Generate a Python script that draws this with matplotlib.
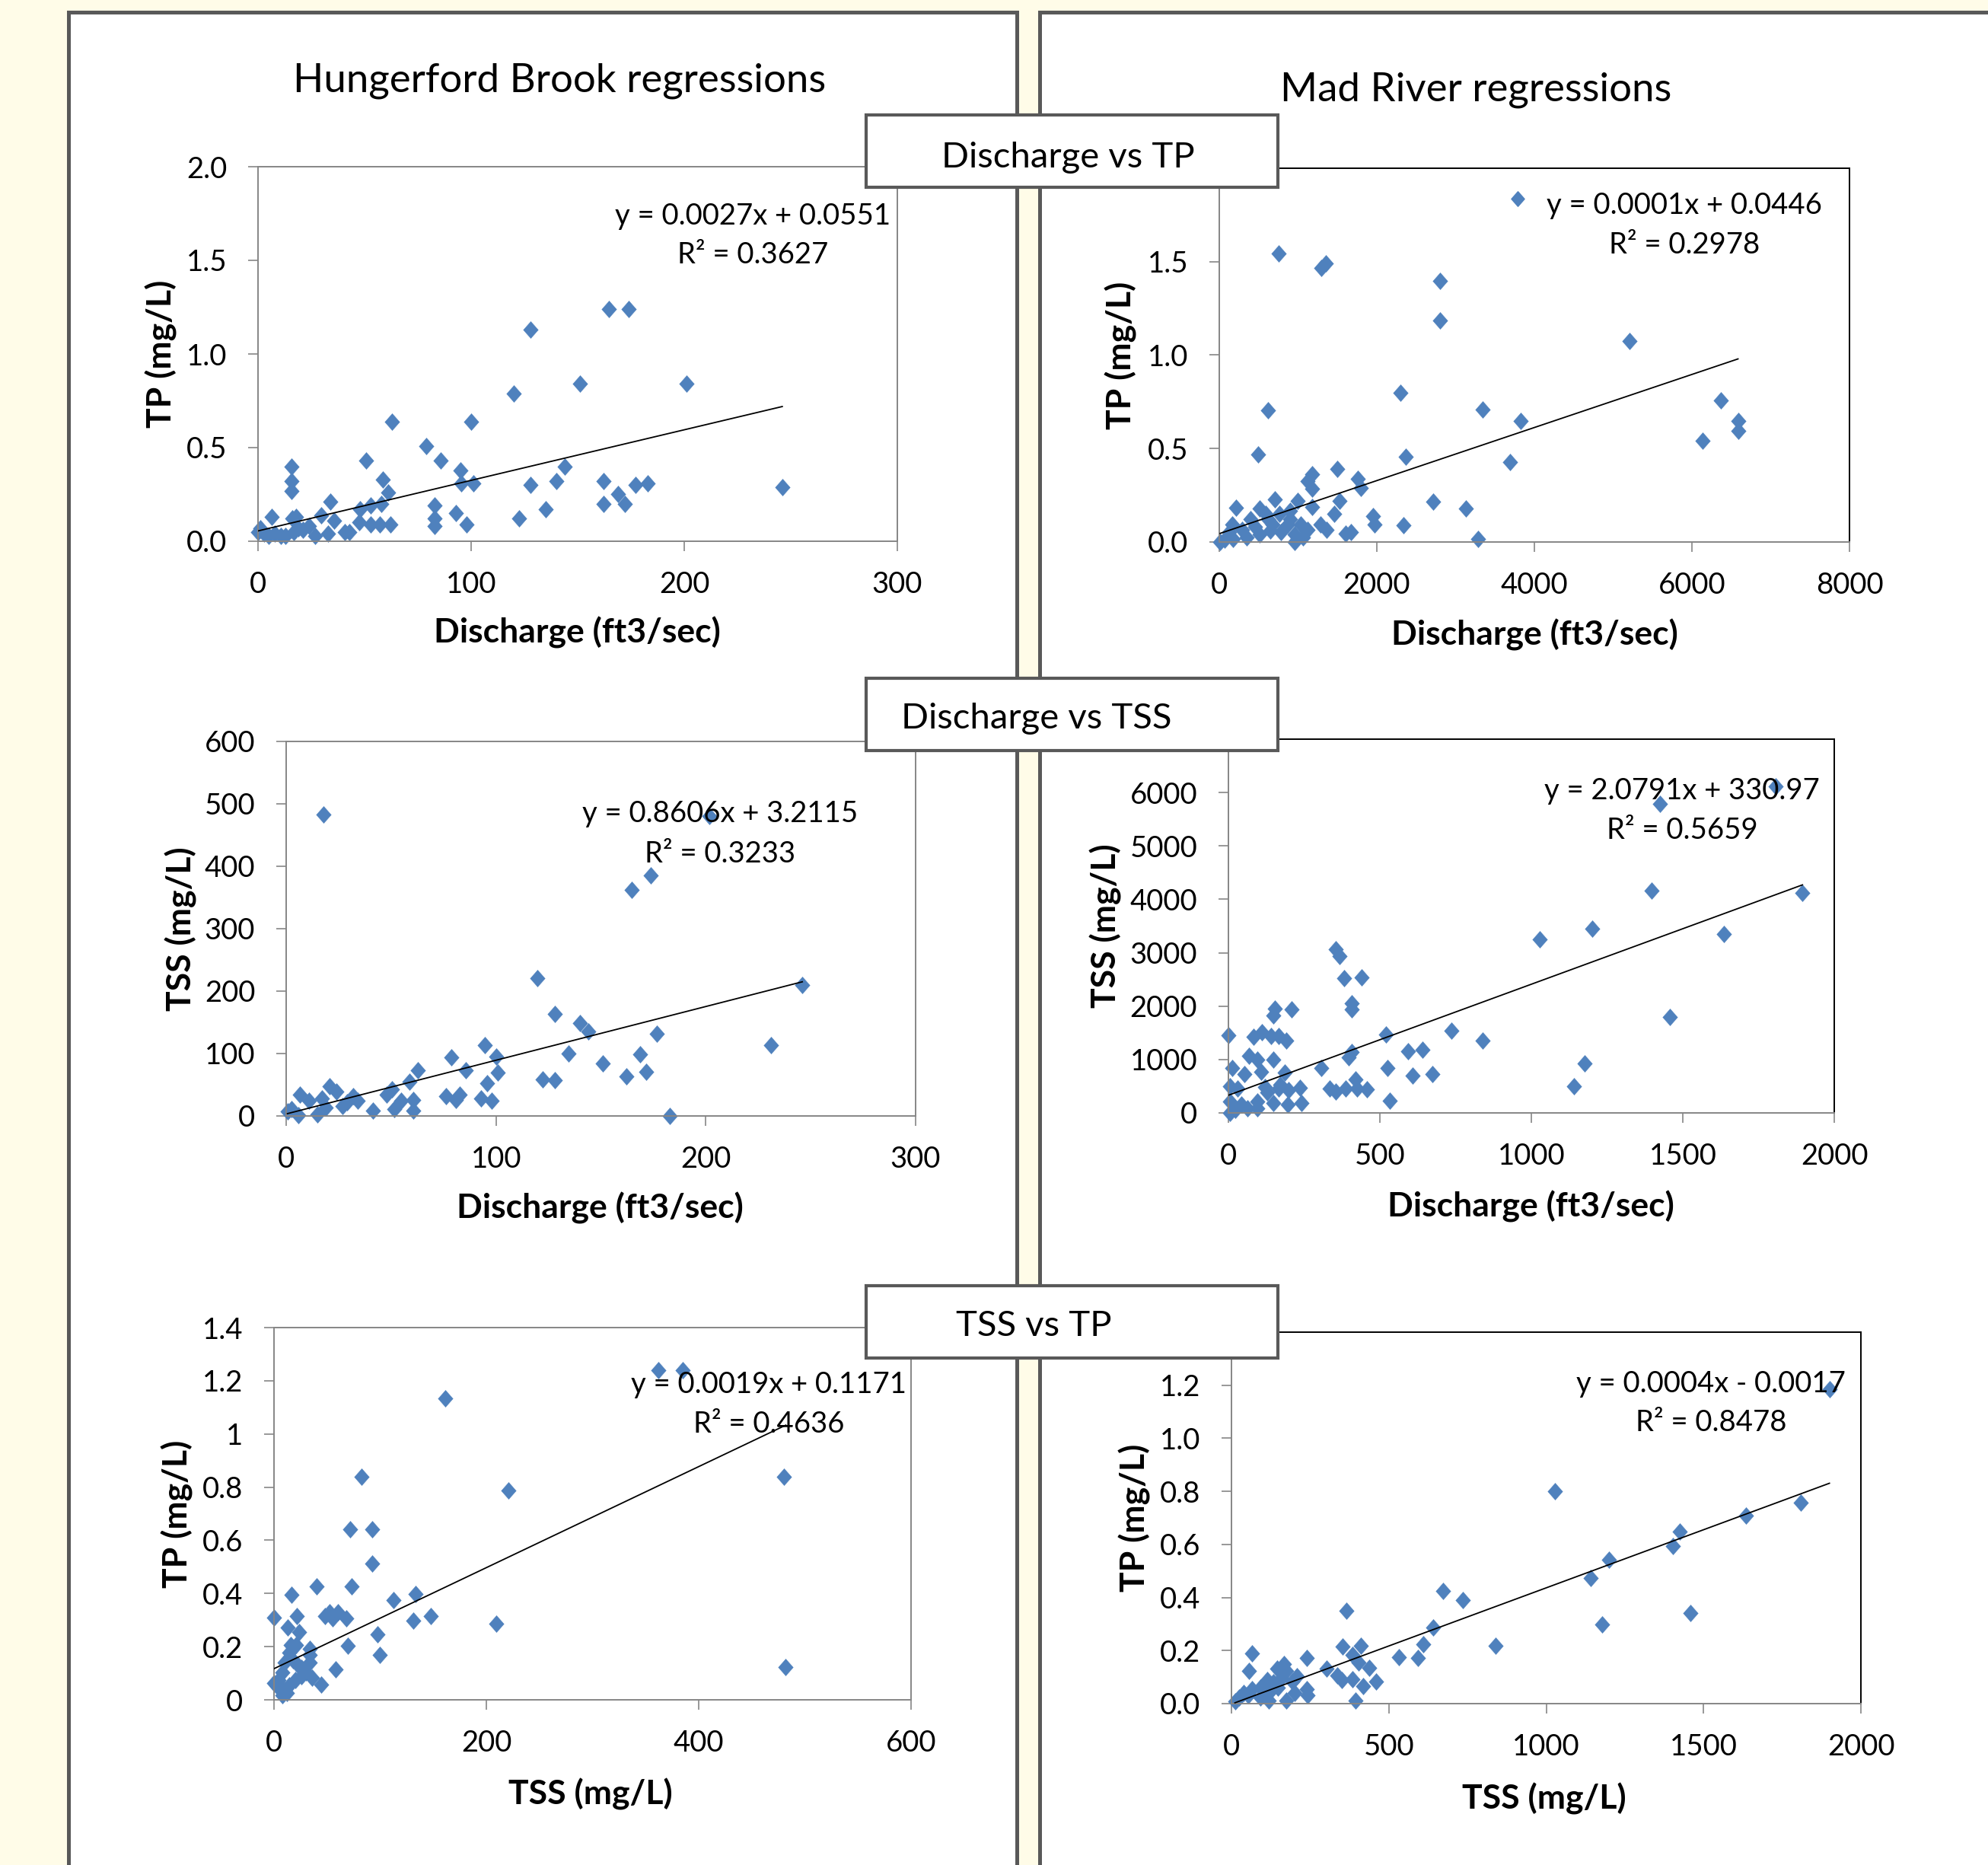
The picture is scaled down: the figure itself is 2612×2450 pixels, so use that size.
import matplotlib
matplotlib.use('Agg')
import matplotlib.pyplot as plt
import numpy as np
from matplotlib.patches import Rectangle
from matplotlib.path import Path
from matplotlib.lines import Line2D

plt.rcParams['font.family'] = ['Lato', 'DejaVu Sans']

# ---- data ----
# Hungerford Brook: discharge (ft3/sec) vs TP (mg/L)
hb_q_tp = [164.8, 174, 128, 151, 201, 120, 62.7, 99.9, 79, 85.8, 50.7, 15.7, 15.7, 15.7, 58.7, 95,
           95.5, 101, 144, 128, 140, 162, 177, 183, 246, 169, 172, 162, 135, 122.6, 92.9, 97.7,
           83, 83, 83, 61, 58, 52.7, 48, 47.6, 53, 57, 62, 33.8, 29.7, 35.6, 40.8, 42.8, 32.8,
           26.7, 18, 16, 6.6, 24, 21, 16.7, 13, 10.6, 5, 1, 0, 3, 8, 19]
hb_tp_q = [1.24, 1.24, 1.13, 0.84, 0.84, 0.79, 0.64, 0.64, 0.51, 0.43, 0.43, 0.40, 0.32, 0.27, 0.33, 0.38,
           0.31, 0.31, 0.40, 0.30, 0.32, 0.32, 0.30, 0.31, 0.29, 0.25, 0.20, 0.20, 0.17, 0.12, 0.15, 0.09,
           0.19, 0.12, 0.08, 0.26, 0.20, 0.19, 0.17, 0.10, 0.09, 0.09, 0.09, 0.21, 0.14, 0.11, 0.05, 0.05, 0.04,
           0.03, 0.13, 0.12, 0.13, 0.08, 0.06, 0.05, 0.03, 0.03, 0.03, 0.07, 0.05, 0.04, 0.04, 0.07]

# Mad River: discharge vs TP
mr_q_tp = [754, 1297, 1353, 2799, 2799, 5211, 2300, 615, 3343, 3825, 6369, 6585, 6585, 6131, 488, 2367,
           3692, 1502, 1175, 1120, 1175, 1757, 1796, 1524, 1463, 2716, 3126, 1951, 1968, 2339, 3282, 1674,
           1607, 1358, 1286, 216, 166, 510, 704, 998, 1175, 399, 621, 759, 898, 1037, 1120, 953, 1064,
           787, 649, 510, 344, 177, 67, 11, 953, 455, 288, 870, 676, 593, 898, 122]
mr_tp_q = [1.545, 1.468, 1.49, 1.398, 1.185, 1.076, 0.798, 0.704, 0.709, 0.648, 0.756, 0.646, 0.595, 0.54, 0.47, 0.455,
           0.428, 0.392, 0.361, 0.326, 0.284, 0.34, 0.291, 0.218, 0.151, 0.217, 0.179, 0.14, 0.092, 0.088, 0.018, 0.053,
           0.046, 0.067, 0.095, 0.183, 0.095, 0.179, 0.228, 0.221, 0.186, 0.123, 0.123, 0.151, 0.123, 0.095, 0.067, 0.039, 0.025,
           0.053, 0.06, 0.039, 0.025, 0.018, 0.011, 0.0, 0.0, 0.081, 0.067, 0.095, 0.095, 0.151, 0.165, 0.053]

# Hungerford Brook: discharge vs TSS
hb_q_tss = [17.7, 201.6, 173.7, 164.8, 119.8, 246, 127.9, 140, 144, 176.8, 231, 94.7, 100, 134.6, 168.8,
            78.6, 85.7, 62.7, 100.8, 151, 162, 171.7, 122.4, 128, 95.7, 58.7, 50.5, 48, 76, 82.7,
            81, 92.7, 97.8, 183, 60.7, 54.6, 60.7, 51.5, 41.3, 20.6, 24, 32, 34, 27, 17,
            6.7, 10.8, 14.9, 5.7, 0.6, 19, 29, 2.6]
hb_tss_q = [483, 481, 385, 362, 221, 210, 163, 149, 135, 132, 113, 114, 95, 100, 99,
            94, 73.5, 73.5, 69, 83.6, 63, 71, 59, 57, 52, 55, 43, 34.5, 32, 34.5,
            26, 28, 24, 0, 26, 24, 9, 11, 9, 47, 39, 32, 24, 15.5, 28,
            34.5, 24, 3, 1, 7, 13, 22, 11]

# Mad River: discharge vs TSS
mr_q_tss = [1807, 1424, 1398, 1895, 1200, 1028, 1636, 1458, 1175, 1140, 354, 367, 383, 440, 408,
            408, 153, 209, 147, 0, 82, 110, 140, 166, 192, 519, 735, 840, 593, 640,
            406, 397, 525, 609, 673, 532, 306, 147, 69, 95, 13, 52, 108, 185, 4,
            30, 121, 166, 198, 237, 335, 354, 387, 419, 425, 458, 147, 196, 240, 95,
            43, 4, 4, 62, 95, 23, 172, 127]
mr_tss_q = [6121, 5793, 4167, 4118, 3443, 3247, 3345, 1792, 921, 504, 3066, 2938, 2527, 2537, 2057,
            1934, 1959, 1934, 1827, 1459, 1420, 1508, 1435, 1435, 1361, 1469, 1533, 1361, 1151, 1180,
            1141, 1043, 847, 700, 725, 225, 847, 994, 1068, 994, 847, 725, 774, 749, 504,
            455, 480, 455, 431, 470, 455, 406, 455, 627, 455, 441, 186, 162, 186, 211,
            162, 211, 0, 88, 88, 64, 529, 382]

# Hungerford Brook: TSS vs TP
hb_tss = [361.7, 384.6, 161.6, 82.4, 480, 220.7, 71.5, 92.4, 92.4, 40.2, 73.2, 16.5, 133.4, 112.5, 0,
          21.7, 52.3, 60, 55, 68, 48, 131, 147.5, 209, 12.9, 24, 97.3, 69.5, 99.3, 16,
          21, 33.4, 14, 58.3, 482, 44.6, 34, 36, 30, 26, 18, 10, 8, 4, 2,
          10, 8, 14, 20, 26, 22, 6, 12, 0, 34]
hb_tp = [1.24, 1.24, 1.133, 0.84, 0.84, 0.788, 0.64, 0.64, 0.512, 0.427, 0.427, 0.394, 0.399, 0.375, 0.309,
         0.316, 0.33, 0.33, 0.306, 0.306, 0.316, 0.297, 0.314, 0.287, 0.273, 0.254, 0.246, 0.204, 0.169, 0.207,
         0.207, 0.192, 0.178, 0.114, 0.124, 0.057, 0.169, 0.083, 0.102, 0.121, 0.15, 0.14, 0.102, 0.074, 0.055,
         0.036, 0.017, 0.055, 0.074, 0.088, 0.131, 0.045, 0.027, 0.064, 0.14]

# Mad River: TSS vs TP
mr_tss = [1900, 1028, 1809, 1636, 1425, 1402, 1199, 1141, 1178, 1459, 673, 735, 365, 642, 609,
          840, 533, 593, 354, 411, 384, 404, 438, 459, 418, 393, 239, 65, 56, 303,
          337, 350, 384, 144, 167, 174, 208, 194, 239, 242, 201, 174, 113, 92, 147,
          119, 65, 92, 119, 38, 24, 11, 52, 160, 133]
mr_tp = [1.185, 0.80, 0.758, 0.708, 0.647, 0.594, 0.542, 0.473, 0.297, 0.34, 0.425, 0.39, 0.351, 0.288, 0.224,
         0.219, 0.174, 0.172, 0.214, 0.217, 0.183, 0.155, 0.136, 0.084, 0.067, 0.012, 0.171, 0.188, 0.122, 0.131,
         0.107, 0.088, 0.093, 0.131, 0.150, 0.122, 0.103, 0.084, 0.055, 0.031, 0.041, 0.012, 0.088, 0.06, 0.06,
         0.041, 0.055, 0.022, 0.012, 0.041, 0.022, 0.008, 0.031, 0.098, 0.079]

# trendline (slope, intercept) as drawn, and the labels printed on the chart
fits = [(0.0027, 0.0551), (0.000142, 0.0446), (0.8606, 3.2115),
        (2.0791, 330.97), (0.0019, 0.1171), (0.000438, -0.0017)]
eq_text = ['y = 0.0027x + 0.0551', 'y = 0.0001x + 0.0446', 'y = 0.8606x + 3.2115',
           'y = 2.0791x + 330.97', 'y = 0.0019x + 0.1171', 'y = 0.0004x - 0.0017']
r2_text = ['R² = 0.3627', 'R² = 0.2978', 'R² = 0.3233', 'R² = 0.5659', 'R² = 0.4636', 'R² = 0.8478']

xtick_vals = [[0, 100, 200, 300], [0, 2000, 4000, 6000, 8000], [0, 100, 200, 300],
              [0, 500, 1000, 1500, 2000], [0, 200, 400, 600], [0, 500, 1000, 1500, 2000]]
ytick_vals = [[0, 0.5, 1.0, 1.5, 2.0], [0, 0.5, 1.0, 1.5, 2.0], [0, 100, 200, 300, 400, 500, 600],
              [0, 1000, 2000, 3000, 4000, 5000, 6000, 7000], [0, 0.2, 0.4, 0.6, 0.8, 1.0, 1.2, 1.4],
              [0, 0.2, 0.4, 0.6, 0.8, 1.0, 1.2, 1.4]]
# top labels of the right-hand charts sit under the section boxes, so they are blank
ytick_lbls = [['0.0', '0.5', '1.0', '1.5', '2.0'], ['0.0', '0.5', '1.0', '1.5', ''],
              ['0', '100', '200', '300', '400', '500', '600'],
              ['0', '1000', '2000', '3000', '4000', '5000', '6000', ''],
              ['0', '0.2', '0.4', '0.6', '0.8', '1', '1.2', '1.4'],
              ['0.0', '0.2', '0.4', '0.6', '0.8', '1.0', '1.2', '']]
xlabels = ['Discharge (ft3/sec)'] * 4 + ['TSS (mg/L)'] * 2
ylabels = ['TP (mg/L)', 'TP (mg/L)', 'TSS (mg/L)', 'TSS (mg/L)', 'TP (mg/L)', 'TP (mg/L)']
section_titles = ['Discharge vs TP', 'Discharge vs TSS', 'TSS vs TP']
site_titles = ['Hungerford Brook regressions', 'Mad River regressions']

series = [(hb_q_tp, hb_tp_q), (mr_q_tp, mr_tp_q), (hb_q_tss, hb_tss_q),
          (mr_q_tss, mr_tss_q), (hb_tss, hb_tp), (mr_tss, mr_tp)]

# ---- layout (pixels in a 2612 x 2450 canvas) ----
W, H = 2612, 2450
BLUE = '#4f81bd'
GRAY = '#868686'
DARK = '#595959'
CREAM = '#fffce8'

# axes boxes: left, top, right, bottom
ax_px = [(339, 219, 1179, 711), (1602, 221, 2430, 712), (376, 974, 1203, 1466),
         (1614, 971, 2410, 1462), (360, 1744, 1197, 2233), (1618, 1750, 2445, 2238)]
# equation text: centre x, baseline of line 1, baseline of line 2
eq_px = [(989, 295, 346), (2213, 281, 333), (946, 1080, 1133),
         (2210, 1050, 1102), (1010, 1830, 1882), (2248, 1829, 1880)]
ylab_x = [212, 1473, 238, 1453, 233, 1491]
xlab_px = [(758, 845), (2016, 848), (788, 1600), (2011, 1598), (776, 2371), (2029, 2376)]
xlims = [(0, 300), (0, 8000), (0, 300), (0, 2000), (0, 600), (0, 2000)]
ylims = [(0, 2.0), (0, 2.0), (0, 600), (0, 7000), (0, 1.4), (0, 1.4)]

diamond = Path([(0, 1), (0.88, 0), (0, -1), (-0.88, 0), (0, 1)],
               [Path.MOVETO, Path.LINETO, Path.LINETO, Path.LINETO, Path.CLOSEPOLY])


def fx(x):
    return x / W


def fy(y):
    return 1 - y / H


fig = plt.figure(figsize=(W / 100, H / 100), dpi=100, facecolor=CREAM)

# white panels with dark borders
for x0, x1 in [(89.5, 1336), (1365.5, 2640)]:
    fig.add_artist(Rectangle((fx(x0), fy(2480)), (x1 - x0) / W, (2480 - 15.5) / H,
                             transform=fig.transFigure, facecolor='white',
                             edgecolor=DARK, lw=3.6, zorder=-2))

fig.text(fx(735), fy(120), site_titles[0], fontsize=38, ha='center', va='baseline')
fig.text(fx(1939), fy(132), site_titles[1], fontsize=38, ha='center', va='baseline')

for i in range(6):
    l, t, r, b = ax_px[i]
    ax = fig.add_axes([fx(l), fy(b), (r - l) / W, (b - t) / H])
    xs, ys = series[i]
    ax.plot(xs, ys, ls='none', marker=diamond, ms=16, mfc=BLUE, mec=BLUE, mew=0.3,
            clip_on=False, zorder=2)
    slope, icpt = fits[i]
    xx = np.array([min(xs), max(xs)])
    ax.plot(xx, slope * xx + icpt, color='black', lw=1.3, zorder=3)

    ax.set_xlim(*xlims[i])
    ax.set_ylim(*ylims[i])
    ax.set_xticks(xtick_vals[i])
    ax.set_xticklabels([str(v) for v in xtick_vals[i]], fontsize=27.5)
    ax.set_yticks(ytick_vals[i])
    ax.set_yticklabels(ytick_lbls[i], fontsize=27.5)
    ax.tick_params(axis='both', direction='out', length=9.4, width=1.2, color=GRAY)
    ax.tick_params(axis='x', pad=19)
    ax.tick_params(axis='y', pad=20)

    right_col = (i % 2 == 1)
    for side, sp in ax.spines.items():
        sp.set_linewidth(1.4)
        if right_col and side in ('top', 'right'):
            sp.set_color('black')
        else:
            sp.set_color(GRAY)

    ax.set_xlabel(xlabels[i], fontsize=32, fontweight='bold', va='baseline')
    ax.xaxis.set_label_coords((xlab_px[i][0] - l) / (r - l), (b - xlab_px[i][1]) / (b - t))
    ax.set_ylabel(ylabels[i], fontsize=32, fontweight='bold', va='center')
    ax.yaxis.set_label_coords((ylab_x[i] - l) / (r - l), 0.5)

    cx, b1, b2 = eq_px[i]
    fig.text(fx(cx), fy(b1), eq_text[i], fontsize=27.5, ha='center', va='baseline', zorder=6)
    fig.text(fx(cx), fy(b2), r2_text[i], fontsize=27.5, ha='center', va='baseline', zorder=6)

    if i == 1:
        key = Line2D([], [], ls='none', marker=diamond, ms=14, mfc=BLUE, mec=BLUE)
        ax.legend(handles=[key], labels=[''], loc='center', bbox_to_anchor=(fx(1994), fy(262)),
                  bbox_transform=fig.transFigure, frameon=False, handlelength=1,
                  handletextpad=0, borderpad=0, borderaxespad=0)

# section boxes drawn over the panels
box_px = [(151, 246, 1403, 220), (891, 986, 1362, 957), (1689, 1784, 1358, 1755)]
for j, (bt, bb, tx, tb) in enumerate(box_px):
    fig.add_artist(Rectangle((fx(1138), fy(bb)), (1679 - 1138) / W, (bb - bt) / H,
                             transform=fig.transFigure, facecolor='white',
                             edgecolor=DARK, lw=3, zorder=10))
    fig.text(fx(tx), fy(tb), section_titles[j], fontsize=34, ha='center', va='baseline', zorder=11)

fig.savefig('out.png', dpi=100, facecolor=fig.get_facecolor())
